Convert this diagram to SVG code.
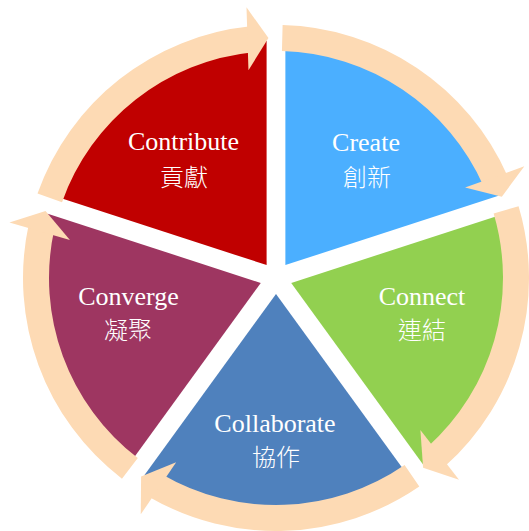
<svg xmlns="http://www.w3.org/2000/svg" width="529" height="531" viewBox="0 0 529 531">
  <style>
    .en { font-family: "Liberation Serif", "Times New Roman", serif; font-size: 26px; fill: #ffffff; text-anchor: middle; }
    .zh { font-family: "Noto Sans CJK TC", "Noto Sans CJK SC", sans-serif; font-size: 24px; font-weight: 300; fill: #ffffff; text-anchor: middle; }
    .ring { fill: #FDDAB4; stroke: none; }
  </style>
  <rect width="529" height="531" fill="#ffffff"/>

  <g id="create">
    <path d="M285.40,265.06 L285.40,41.06 A224,224 0 0 1 498.44,195.84 Z" fill="#4BAFFF"/>
    <text class="en" x="366" y="151">Create</text>
    <text class="zh" x="367" y="186">創新</text>
  </g>
  <g id="connect">
    <path d="M291.22,282.94 L504.26,213.72 A224,224 0 0 1 422.88,464.16 Z" fill="#92D050"/>
    <text class="en" x="422" y="305">Connect</text>
    <text class="zh" x="422" y="339">連結</text>
  </g>
  <g id="collaborate">
    <path d="M276,294 L407.66,475.22 A224,224 0 0 1 144.34,475.22 Z" fill="#4F81BD"/>
    <text class="en" x="275" y="432">Collaborate</text>
    <text class="zh" x="276" y="466">協作</text>
  </g>
  <g id="converge">
    <path d="M260.78,282.94 L129.12,464.16 A224,224 0 0 1 47.74,213.72 Z" fill="#9E3661"/>
    <text class="en" x="128.5" y="305">Converge</text>
    <text class="zh" x="128" y="339">凝聚</text>
  </g>
  <g id="contribute">
    <path d="M266.60,265.06 L53.56,195.84 A224,224 0 0 1 266.60,41.06 Z" fill="#C00000"/>
    <text class="en" x="183.5" y="150">Contribute</text>
    <text class="zh" x="184" y="186">貢獻</text>
  </g>

  <g id="connectors">
    <g id="arrow-create">
      <path class="ring" d="M282.62,25.09 A253,253 0 0 1 507.48,175.90 L483.70,186.39 A227,227 0 0 0 281.94,51.08 Z"/>
      <path class="ring" d="M524.34,166.27 L501.81,196.70 L465.06,187.61 Z"/>
    </g>
    <g id="arrow-connect">
      <path class="ring" d="M518.58,206.14 A253,253 0 0 1 444.63,466.61 L427.30,447.22 A227,227 0 0 0 493.65,213.53 Z"/>
      <path class="ring" d="M459.00,479.66 L423.10,467.64 L420.38,429.88 Z"/>
    </g>
    <g id="arrow-collaborate">
      <path class="ring" d="M419.30,486.50 A253,253 0 0 1 148.74,496.66 L161.81,474.19 A227,227 0 0 0 404.58,465.08 Z"/>
      <path class="ring" d="M140.76,514.35 L141.10,476.50 L176.18,462.25 Z"/>
    </g>
    <g id="arrow-converge">
      <path class="ring" d="M121.98,478.72 A253,253 0 0 1 28.71,224.54 L54.13,230.03 A227,227 0 0 0 137.81,458.09 Z"/>
      <path class="ring" d="M9.42,222.42 L45.53,211.04 L69.92,240.00 Z"/>
    </g>
    <g id="arrow-contribute">
      <path class="ring" d="M37.51,193.55 A253,253 0 0 1 250.43,26.30 L253.06,52.16 A227,227 0 0 0 62.02,202.23 Z"/>
      <path class="ring" d="M246.48,7.30 L268.46,38.12 L248.46,70.26 Z"/>
    </g>
  </g>
</svg>
